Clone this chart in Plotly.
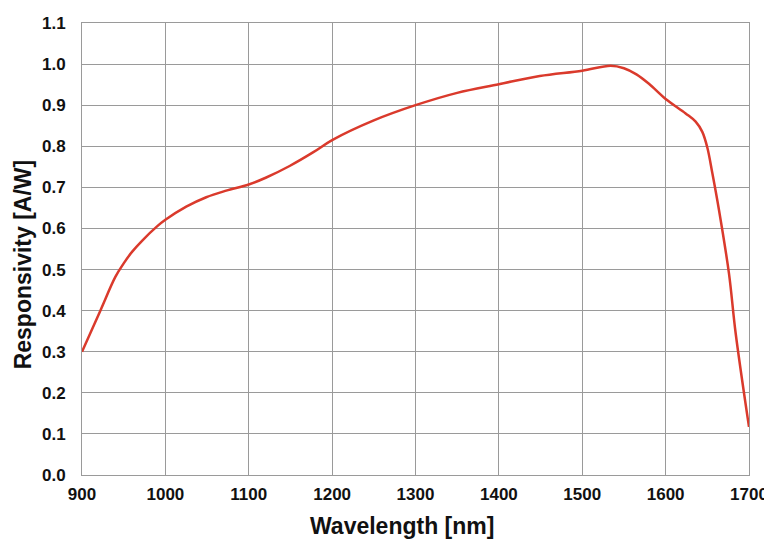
import plotly.graph_objects as go

wavelength = [900, 922, 940, 950, 960, 972, 990, 1000, 1025, 1049, 1073, 1100, 1121, 1149, 1177, 1200,
              1250, 1300, 1350, 1400, 1449, 1500, 1534, 1550, 1565, 1580, 1600, 1624, 1636, 1644,
              1650, 1656, 1664, 1676, 1684, 1700]
responsivity = [0.30, 0.40, 0.482, 0.515, 0.543, 0.570, 0.605, 0.621, 0.653, 0.676, 0.692, 0.707, 0.724, 0.752, 0.785, 0.815,
                0.863, 0.90, 0.93, 0.951, 0.971, 0.984, 0.996, 0.99, 0.975, 0.952, 0.915, 0.880, 0.860, 0.835,
                0.797, 0.735, 0.645, 0.49, 0.345, 0.117]

x_ticks = [900, 1000, 1100, 1200, 1300, 1400, 1500, 1600, 1700]
y_ticks = [0.0, 0.1, 0.2, 0.3, 0.4, 0.5, 0.6, 0.7, 0.8, 0.9, 1.0, 1.1]

x_title = "Wavelength [nm]"
y_title = "Responsivity [A/W]"

fig = go.Figure()
fig.add_trace(go.Scatter(x=wavelength, y=responsivity, mode="lines",
                         line=dict(color="#da3a2c", width=2.5, shape="spline", smoothing=1.0),
                         showlegend=False, hoverinfo="skip"))

axis_common = dict(showgrid=True, gridcolor="#9a9a9a", gridwidth=1,
                   showline=True, linecolor="#9a9a9a", linewidth=1, mirror=True,
                   zeroline=False, ticks="", automargin=False,
                   tickfont=dict(family="Liberation Sans", size=17, color="#111111", weight="bold"))

title_font = dict(family="Liberation Sans", size=23, color="#111111", weight="bold")

fig.update_xaxes(range=[900, 1700], tickvals=x_ticks, ticktext=[str(v) for v in x_ticks],
                 ticklabelstandoff=4, **axis_common)
fig.update_yaxes(range=[0, 1.1], tickvals=y_ticks, ticktext=[f"{v:.1f}" for v in y_ticks],
                 ticklabelstandoff=12, **axis_common)

fig.add_annotation(text=x_title, xref="paper", yref="paper", x=0.4805, y=-0.113,
                   xanchor="center", yanchor="middle", showarrow=False, font=title_font)
fig.add_annotation(text=y_title, xref="paper", yref="paper", x=-0.0885, y=0.466,
                   xanchor="center", yanchor="middle", textangle=-90, showarrow=False, font=title_font)

# page body has an 8px margin, so the figure is sized/offset accordingly
fig.update_layout(width=764, height=532, margin=dict(l=74, r=23, t=15, b=65),
                  plot_bgcolor="white", paper_bgcolor="white")

fig.write_html("out.html")
